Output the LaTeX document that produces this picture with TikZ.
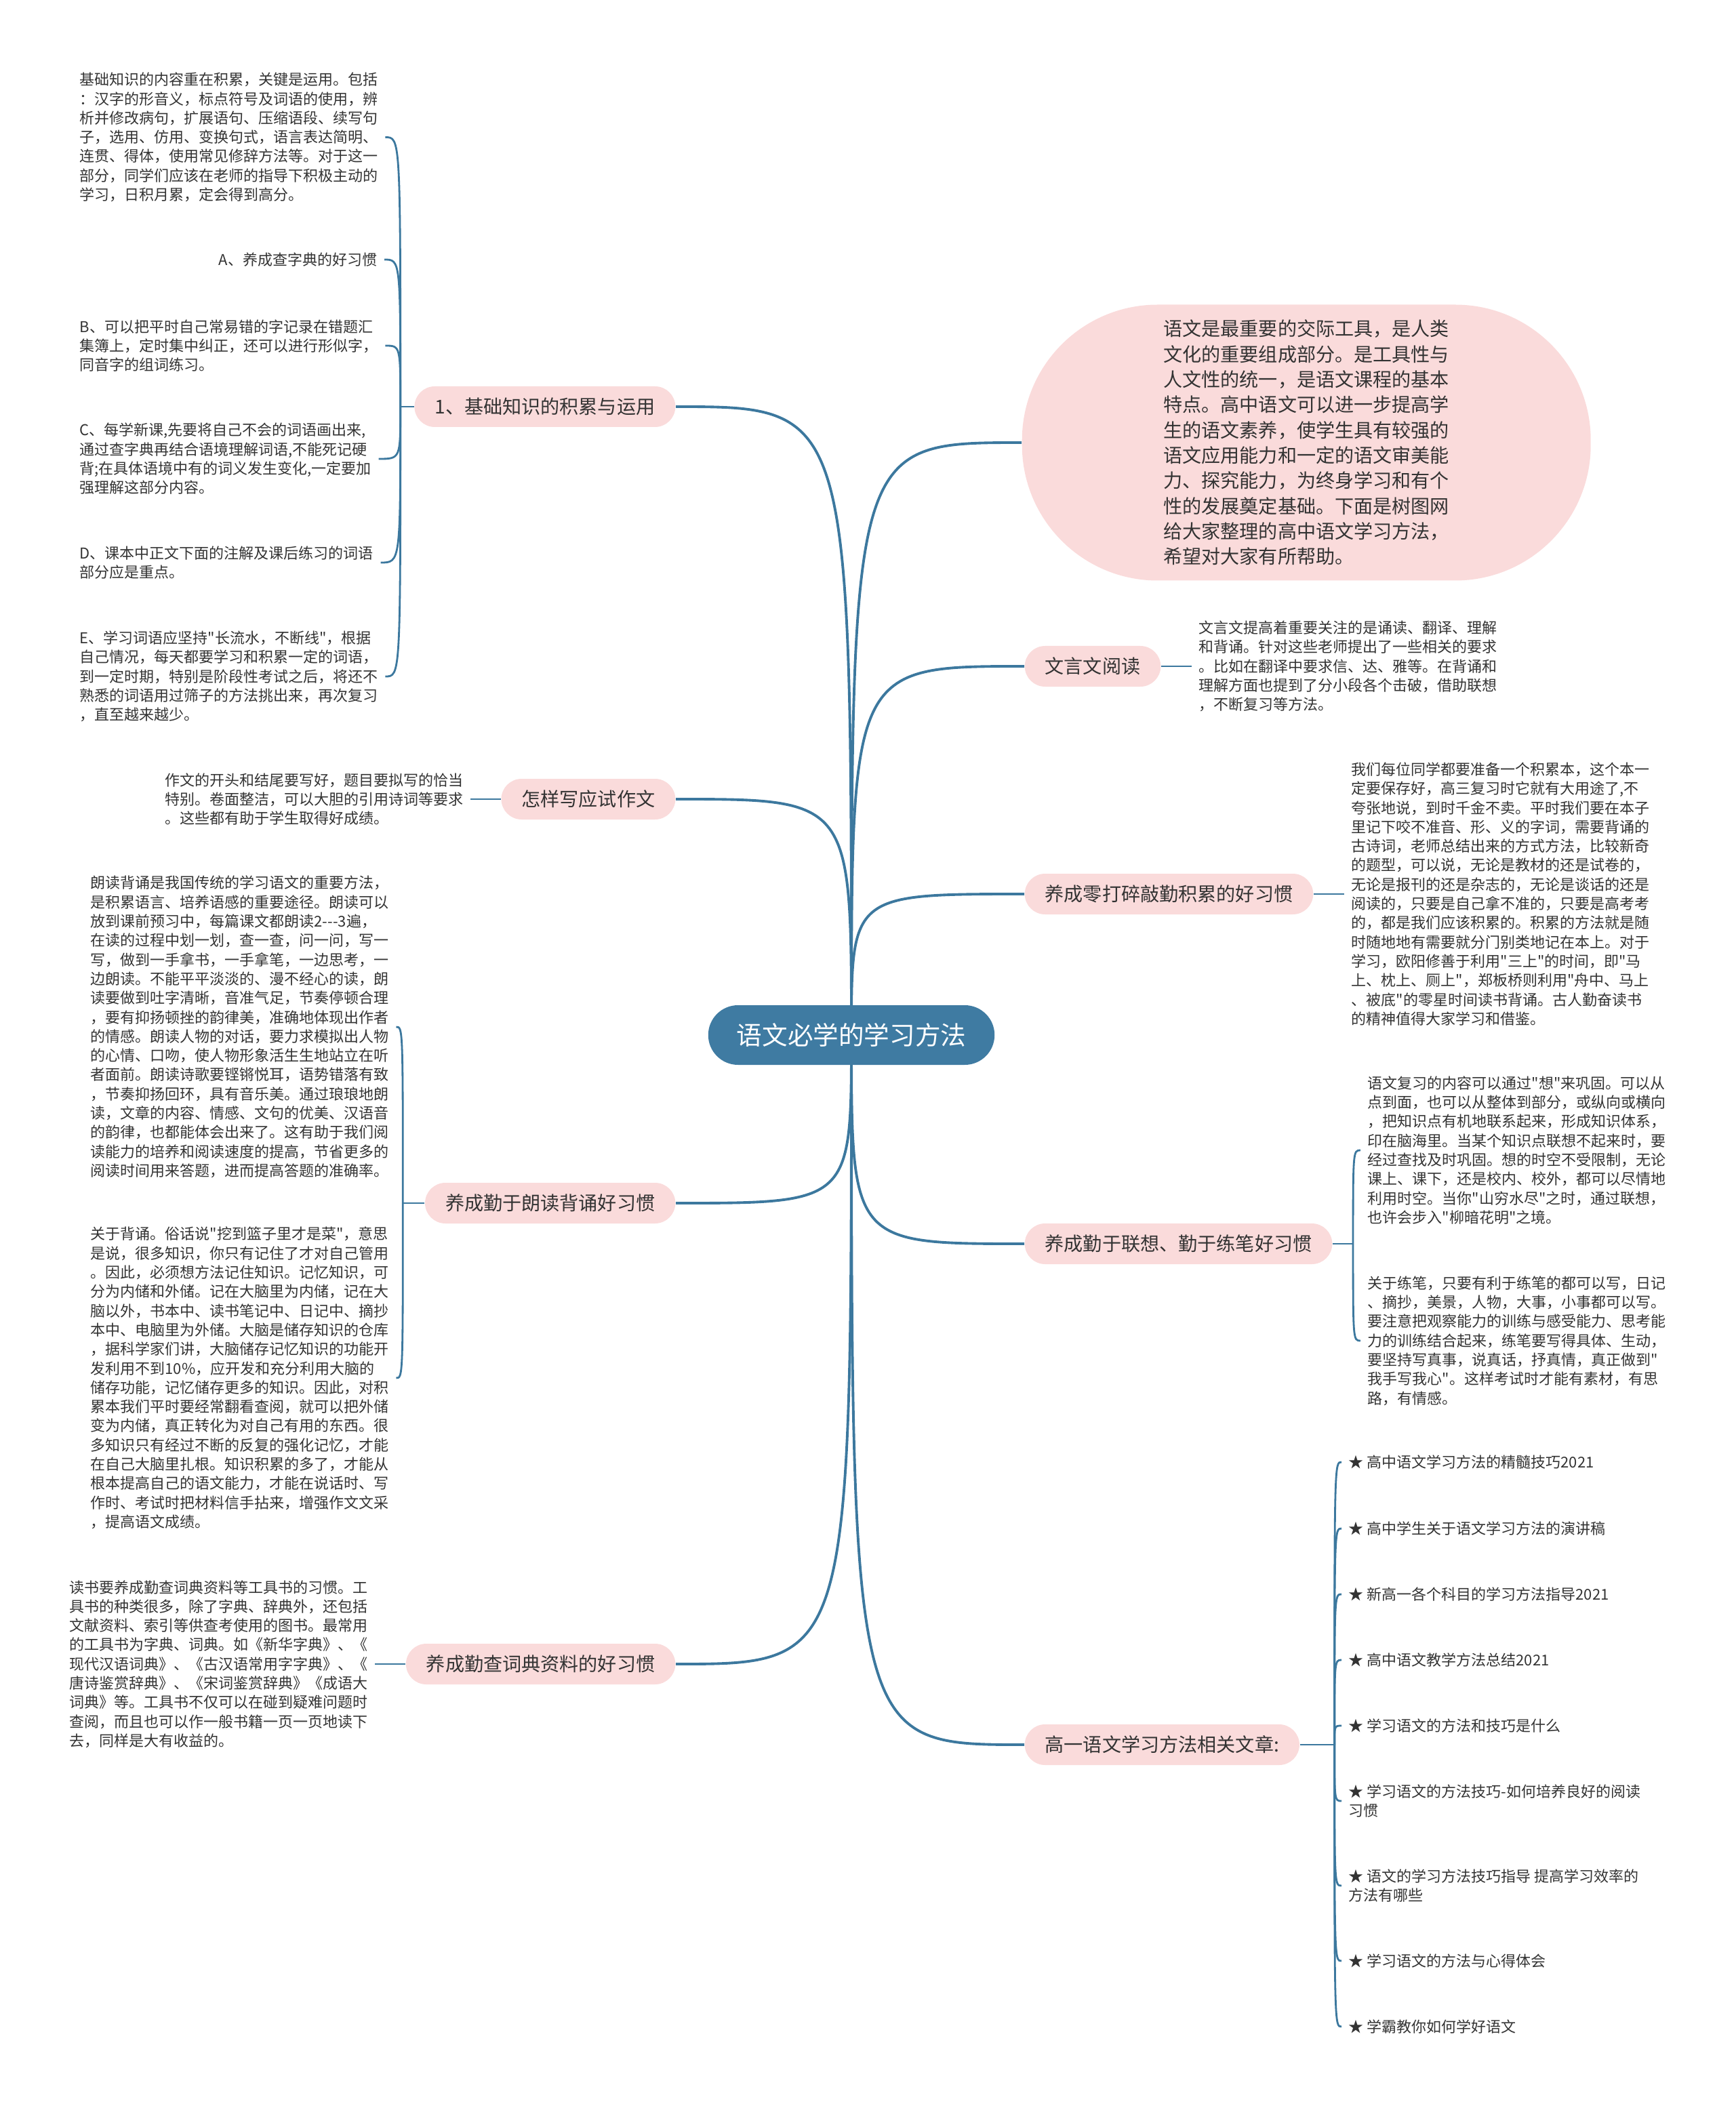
\documentclass[tikz,border=0pt]{standalone}
\usepackage{fontspec}
\setmainfont{Noto Sans CJK SC}[Ligatures=TeXOff]
\usepackage{xcolor}
\definecolor{linkblue}{HTML}{3C789E}
\definecolor{rootblue}{HTML}{3F7BA2}
\definecolor{topicpink}{HTML}{FADBDB}
\definecolor{inktext}{HTML}{333333}
\usepackage{tikz}
\usetikzlibrary{positioning, backgrounds}

\begin{document}
\begin{tikzpicture}[
  node distance=0.45cm,
  root/.style={fill=rootblue, text=white, rounded corners=0.44cm,
               minimum height=0.88cm, inner xsep=0.42cm,
               font=\fontsize{10.7pt}{12pt}\selectfont},
  topic/.style={fill=topicpink, text=inktext, rounded corners=0.3cm,
                minimum height=0.6cm, inner xsep=0.3cm,
                font=\fontsize{8pt}{9.6pt}\selectfont},
  intro/.style={fill=topicpink, text=inktext, rounded corners=2cm,
                minimum width=8.39cm, minimum height=4.07cm, align=left,
                font=\fontsize{8pt}{10.63pt}\selectfont},
  note/.style={text=inktext, align=left, inner sep=0.1cm,
               font=\fontsize{6.26pt}{8.05pt}\selectfont},
  link/.style={draw=linkblue, line width=1.1pt},
  twig/.style={draw=linkblue, line width=0.8pt}
]
\useasboundingbox (0,0) rectangle (25.6,-31.1);

\node[root] (root) at (12.56,-15.27) {语文必学的学习方法};

\node[topic, anchor=east] (basics) at (9.97,-6.00) {1、基础知识的积累与运用};
\node[topic, anchor=east] (essay)  at (9.97,-11.79) {怎样写应试作文};
\node[topic, anchor=east] (recite) at (9.97,-17.75) {养成勤于朗读背诵好习惯};
\node[topic, anchor=east] (lookup) at (9.97,-24.55) {养成勤查词典资料的好习惯};

\node[intro, anchor=west] (intro) at (15.07,-6.53)
  {语文是最重要的交际工具，是人类\\
   文化的重要组成部分。是工具性与\\
   人文性的统一，是语文课程的基本\\
   特点。高中语文可以进一步提高学\\
   生的语文素养，使学生具有较强的\\
   语文应用能力和一定的语文审美能\\
   力、探究能力，为终身学习和有个\\
   性的发展奠定基础。下面是树图网\\
   给大家整理的高中语文学习方法，\\
   希望对大家有所帮助。};
\node[topic, anchor=west] (classic)  at (15.11,-9.83) {文言文阅读};
\node[topic, anchor=west] (notebook) at (15.11,-13.19) {养成零打碎敲勤积累的好习惯};
\node[topic, anchor=west] (think)    at (15.11,-18.35) {养成勤于联想、勤于练笔好习惯};
\node[topic, anchor=west] (related)  at (15.11,-25.74) {高一语文学习方法相关文章:};

\node[note, anchor=west] (b0) at (1.07,-2.025)
  {基础知识的内容重在积累，关键是运用。包括\\
   ：汉字的形音义，标点符号及词语的使用，辨\\
   析并修改病句，扩展语句、压缩语段、续写句\\
   子，选用、仿用、变换句式，语言表达简明、\\
   连贯、得体，使用常见修辞方法等。对于这一\\
   部分，同学们应该在老师的指导下积极主动的\\
   学习，日积月累，定会得到高分。};
\node[note, anchor=east] (bA) at (5.67,-3.83) {A、养成查字典的好习惯};
\node[note, anchor=west] (bB) at (1.07,-5.10)
  {B、可以把平时自己常易错的字记录在错题汇\\
   集簿上，定时集中纠正，还可以进行形似字，\\
   同音字的组词练习。};
\node[note, anchor=west] (bC) at (1.07,-6.77)
  {C、每学新课,先要将自己不会的词语画出来,\\
   通过查字典再结合语境理解词语,不能死记硬\\
   背;在具体语境中有的词义发生变化,一定要加\\
   强理解这部分内容。};
\node[note, anchor=west] (bD) at (1.07,-8.30)
  {D、课本中正文下面的注解及课后练习的词语\\
   部分应是重点。};
\node[note, anchor=west] (bE) at (1.07,-9.98)
  {E、学习词语应坚持"长流水，不断线"，根据\\
   自己情况，每天都要学习和积累一定的词语，\\
   到一定时期，特别是阶段性考试之后，将还不\\
   熟悉的词语用过筛子的方法挑出来，再次复习\\
   ，直至越来越少。};

\node[note, left=of essay] (essaytxt)
  {作文的开头和结尾要写好，题目要拟写的恰当\\
   特别。卷面整洁，可以大胆的引用诗词等要求\\
   。这些都有助于学生取得好成绩。};

\node[note, anchor=west] (readtxt) at (1.23,-15.15)
  {朗读背诵是我国传统的学习语文的重要方法，\\
   是积累语言、培养语感的重要途径。朗读可以\\
   放到课前预习中，每篇课文都朗读2\mbox{-}\mbox{-}\mbox{-}3遍，\\
   在读的过程中划一划，查一查，问一问，写一\\
   写，做到一手拿书，一手拿笔，一边思考，一\\
   边朗读。不能平平淡淡的、漫不经心的读，朗\\
   读要做到吐字清晰，音准气足，节奏停顿合理\\
   ，要有抑扬顿挫的韵律美，准确地体现出作者\\
   的情感。朗读人物的对话，要力求模拟出人物\\
   的心情、口吻，使人物形象活生生地站立在听\\
   者面前。朗读诗歌要铿锵悦耳，语势错落有致\\
   ，节奏抑扬回环，具有音乐美。通过琅琅地朗\\
   读，文章的内容、情感、文句的优美、汉语音\\
   的韵律，也都能体会出来了。这有助于我们阅\\
   读能力的培养和阅读速度的提高，节省更多的\\
   阅读时间用来答题，进而提高答题的准确率。};
\node[note, anchor=west] (memotxt) at (1.23,-20.33)
  {关于背诵。俗话说"挖到篮子里才是菜"，意思\\
   是说，很多知识，你只有记住了才对自己管用\\
   。因此，必须想方法记住知识。记忆知识，可\\
   分为内储和外储。记在大脑里为内储，记在大\\
   脑以外，书本中、读书笔记中、日记中、摘抄\\
   本中、电脑里为外储。大脑是储存知识的仓库\\
   ，据科学家们讲，大脑储存记忆知识的功能开\\
   发利用不到10\%，应开发和充分利用大脑的\\
   储存功能，记忆储存更多的知识。因此，对积\\
   累本我们平时要经常翻看查阅，就可以把外储\\
   变为内储，真正转化为对自己有用的东西。很\\
   多知识只有经过不断的反复的强化记忆，才能\\
   在自己大脑里扎根。知识积累的多了，才能从\\
   根本提高自己的语文能力，才能在说话时、写\\
   作时、考试时把材料信手拈来，增强作文文采\\
   ，提高语文成绩。};

\node[note, left=of lookup] (lookuptxt)
  {读书要养成勤查词典资料等工具书的习惯。工\\
   具书的种类很多，除了字典、辞典外，还包括\\
   文献资料、索引等供查考使用的图书。最常用\\
   的工具书为字典、词典。如《新华字典》、《\\
   现代汉语词典》、《古汉语常用字字典》、《\\
   唐诗鉴赏辞典》、《宋词鉴赏辞典》《成语大\\
   词典》等。工具书不仅可以在碰到疑难问题时\\
   查阅，而且也可以作一般书籍一页一页地读下\\
   去，同样是大有收益的。};

\node[note, right=of classic] (classictxt)
  {文言文提高着重要关注的是诵读、翻译、理解\\
   和背诵。针对这些老师提出了一些相关的要求\\
   。比如在翻译中要求信、达、雅等。在背诵和\\
   理解方面也提到了分小段各个击破，借助联想\\
   ，不断复习等方法。};

\node[note, right=of notebook] (notebooktxt)
  {我们每位同学都要准备一个积累本，这个本一\\
   定要保存好，高三复习时它就有大用途了,不\\
   夸张地说，到时千金不卖。平时我们要在本子\\
   里记下咬不准音、形、义的字词，需要背诵的\\
   古诗词，老师总结出来的方式方法，比较新奇\\
   的题型，可以说，无论是教材的还是试卷的，\\
   无论是报刊的还是杂志的，无论是谈话的还是\\
   阅读的，只要是自己拿不准的，只要是高考考\\
   的，都是我们应该积累的。积累的方法就是随\\
   时随地地有需要就分门别类地记在本上。对于\\
   学习，欧阳修善于利用"三上"的时间，即"马\\
   上、枕上、厕上"，郑板桥则利用"舟中、马上\\
   、被底"的零星时间读书背诵。古人勤奋读书\\
   的精神值得大家学习和借鉴。};

\node[note, anchor=west] (assoc) at (20.07,-16.97)
  {语文复习的内容可以通过"想"来巩固。可以从\\
   点到面，也可以从整体到部分，或纵向或横向\\
   ，把知识点有机地联系起来，形成知识体系，\\
   印在脑海里。当某个知识点联想不起来时，要\\
   经过查找及时巩固。想的时空不受限制，无论\\
   课上、课下，还是校内、校外，都可以尽情地\\
   利用时空。当你"山穷水尽"之时，通过联想，\\
   也许会步入"柳暗花明"之境。};
\node[note, anchor=west] (pen) at (20.07,-19.78)
  {关于练笔，只要有利于练笔的都可以写，日记\\
   、摘抄，美景，人物，大事，小事都可以写。\\
   要注意把观察能力的训练与感受能力、思考能\\
   力的训练结合起来，练笔要写得具体、生动，\\
   要坚持写真事，说真话，抒真情，真正做到"\\
   我手写我心"。这样考试时才能有素材，有思\\
   路，有情感。};

\node[note, anchor=west] (a1) at (19.79,-21.57) {★ 高中语文学习方法的精髓技巧2021};
\node[note, anchor=west] (a2) at (19.79,-22.55) {★ 高中学生关于语文学习方法的演讲稿};
\node[note, anchor=west] (a3) at (19.79,-23.52) {★ 新高一各个科目的学习方法指导2021};
\node[note, anchor=west] (a4) at (19.79,-24.49) {★ 高中语文教学方法总结2021};
\node[note, anchor=west] (a5) at (19.79,-25.46) {★ 学习语文的方法和技巧是什么};
\node[note, anchor=west] (a6) at (19.79,-26.57)
  {★ 学习语文的方法技巧-如何培养良好的阅读\\习惯};
\node[note, anchor=west] (a7) at (19.79,-27.82)
  {★ 语文的学习方法技巧指导 提高学习效率的\\方法有哪些};
\node[note, anchor=west] (a8) at (19.79,-28.93) {★ 学习语文的方法与心得体会};
\node[note, anchor=west] (a9) at (19.79,-29.90) {★ 学霸教你如何学好语文};

\coordinate[left=0.2cm of basics] (hubB);
\coordinate[left=0.32cm of recite] (hubR);
\coordinate[right=0.3cm of think] (hubT);
\coordinate[right=0.51cm of related] (hubA);

\begin{scope}[on background layer]
\draw[link] (root.center) .. controls (root.center |- basics.east) .. (basics.east);
\draw[link] (root.center) .. controls (root.center |- essay.east) .. (essay.east);
\draw[link] (root.center) .. controls (root.center |- recite.east) .. (recite.east);
\draw[link] (root.center) .. controls (root.center |- lookup.east) .. (lookup.east);
\draw[link] (root.center) .. controls (root.center |- intro.west) .. (intro.west);
\draw[link] (root.center) .. controls (root.center |- classic.west) .. (classic.west);
\draw[link] (root.center) .. controls (root.center |- notebook.west) .. (notebook.west);
\draw[link] (root.center) .. controls (root.center |- think.west) .. (think.west);
\draw[link] (root.center) .. controls (root.center |- related.west) .. (related.west);

\draw[twig] (basics.west) -- (hubB);
\foreach \leaf in {b0, bA, bB, bC, bD, bE}
  \draw[twig] (hubB) .. controls (hubB |- \leaf.east) .. (\leaf.east);
\draw[twig] (essay.west) -- (essaytxt.east);
\draw[twig] (recite.west) -- (hubR);
\foreach \leaf in {readtxt, memotxt}
  \draw[twig] (hubR) .. controls (hubR |- \leaf.east) .. (\leaf.east);
\draw[twig] (lookup.west) -- (lookuptxt.east);

\draw[twig] (classic.east) -- (classictxt.west);
\draw[twig] (notebook.east) -- (notebooktxt.west);
\draw[twig] (think.east) -- (hubT);
\foreach \leaf in {assoc, pen}
  \draw[twig] (hubT) .. controls (hubT |- \leaf.west) .. (\leaf.west);
\draw[twig] (related.east) -- (hubA);
\foreach \leaf in {a1, a2, a3, a4, a5, a6, a7, a8, a9}
  \draw[twig] (hubA) .. controls (hubA |- \leaf.west) .. (\leaf.west);
\end{scope}

\end{tikzpicture}
\end{document}
